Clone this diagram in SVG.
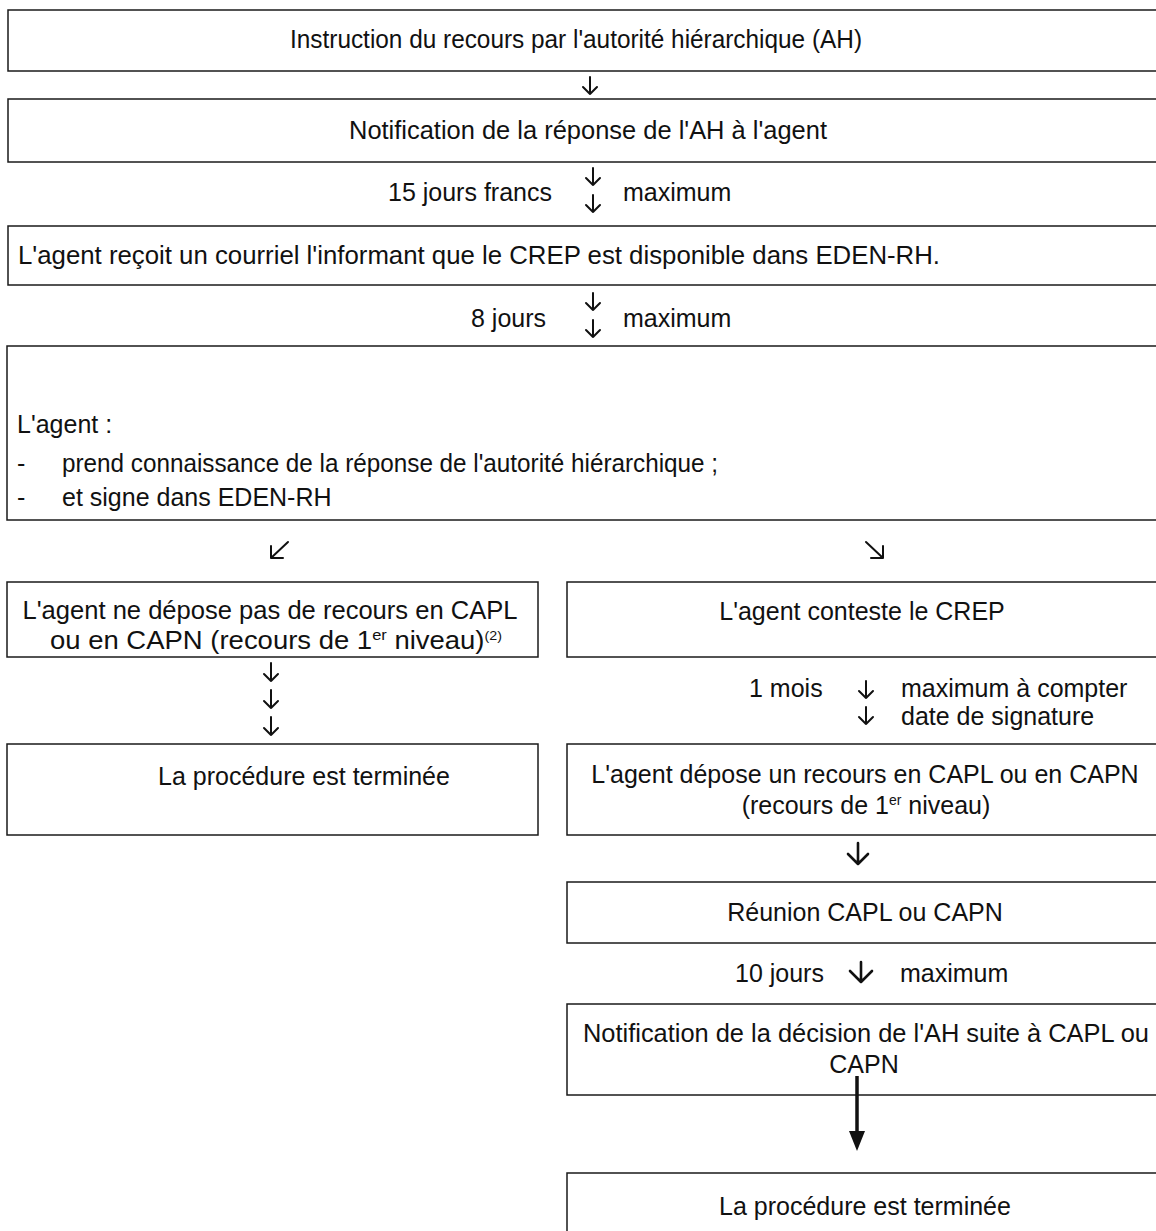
<svg xmlns="http://www.w3.org/2000/svg" width="1156" height="1231" viewBox="0 0 1156 1231">
<style>
.box{fill:#fff;stroke:#1a1a1a;stroke-width:1.5}
.t{font-family:"Liberation Sans",Arial,sans-serif;font-size:25px;fill:#111}
.c{text-anchor:middle}
.sup{font-size:14px}
.arr{fill:none;stroke:#111;stroke-width:2;stroke-linecap:round;stroke-linejoin:round}
.arrb{fill:none;stroke:#111;stroke-width:2.6;stroke-linecap:round;stroke-linejoin:round}
</style>
<rect width="1156" height="1231" fill="#fff"/>
<g id="n1"><rect class="box" x="8" y="10" width="1160" height="61"/><text class="t c" x="576" y="48" textLength="572" lengthAdjust="spacingAndGlyphs">Instruction du recours par l'autorité hiérarchique (AH)</text></g>
<g id="n2"><rect class="box" x="8" y="99" width="1160" height="63"/><text class="t c" x="588" y="139" textLength="478" lengthAdjust="spacingAndGlyphs">Notification de la réponse de l'AH à l'agent</text></g>
<g id="n3"><rect class="box" x="8" y="226" width="1160" height="59"/><text class="t" x="18" y="264" textLength="922" lengthAdjust="spacingAndGlyphs">L'agent reçoit un courriel l'informant que le CREP est disponible dans EDEN-RH.</text></g>
<g id="n4"><rect class="box" x="7" y="346" width="1160" height="174"/>
<text class="t" x="17" y="433">L'agent :</text>
<text class="t" x="17" y="472">-</text><text class="t" x="62" y="472" textLength="656" lengthAdjust="spacingAndGlyphs">prend connaissance de la réponse de l'autorité hiérarchique ;</text>
<text class="t" x="17" y="506">-</text><text class="t" x="62" y="506">et signe dans EDEN-RH</text></g>
<g id="n5"><rect class="box" x="7" y="582" width="531" height="75"/>
<text class="t c" x="270" y="619" textLength="495" lengthAdjust="spacingAndGlyphs">L'agent ne dépose pas de recours en CAPL</text>
<text class="t" x="50" y="649" font-size="26" textLength="452" lengthAdjust="spacingAndGlyphs">ou en CAPN (recours de 1<tspan font-size="15" dy="-9">er</tspan><tspan dy="9"> niveau)</tspan><tspan font-size="13" dy="-9">(2)</tspan></text></g>
<g id="n6"><rect class="box" x="567" y="582" width="600" height="75"/><text class="t c" x="862" y="620">L'agent conteste le CREP</text></g>
<g id="n7"><rect class="box" x="7" y="744" width="531" height="91"/><text class="t c" x="304" y="785">La procédure est terminée</text></g>
<g id="n8"><rect class="box" x="567" y="744" width="600" height="91"/>
<text class="t c" x="865" y="783">L'agent dépose un recours en CAPL ou en CAPN</text>
<text class="t c" x="866" y="814">(recours de 1<tspan class="sup" dy="-9">er</tspan><tspan dy="9"> niveau)</tspan></text></g>
<g id="n9"><rect class="box" x="567" y="882" width="600" height="61"/><text class="t c" x="865" y="921">Réunion CAPL ou CAPN</text></g>
<g id="n10"><rect class="box" x="567" y="1004" width="600" height="91"/>
<text class="t c" x="866" y="1042" textLength="566" lengthAdjust="spacingAndGlyphs">Notification de la décision de l'AH suite à CAPL ou</text>
<text class="t c" x="864" y="1073">CAPN</text></g>
<g id="n11"><rect class="box" x="567" y="1173" width="600" height="80"/><text class="t c" x="865" y="1215">La procédure est terminée</text></g>
<g id="labels">
<text class="t" x="388" y="201">15 jours francs</text><text class="t" x="623" y="201">maximum</text>
<text class="t" x="471" y="327">8 jours</text><text class="t" x="623" y="327">maximum</text>
<text class="t" x="749" y="697">1 mois</text><text class="t" x="901" y="697">maximum à compter</text>
<text class="t" x="901" y="725">date de signature</text>
<text class="t" x="735" y="982">10 jours</text><text class="t" x="900" y="982">maximum</text>
</g>
<g id="connectors">
<path class="arr" d="M590 77V94M583 87L590 94L597 87"/>
<path class="arr" d="M593 168V185M586 178L593 185L600 178"/>
<path class="arr" d="M593 195V212M586 205L593 212L600 205"/>
<path class="arr" d="M593 293V310M586 303L593 310L600 303"/>
<path class="arr" d="M593 320V337M586 330L593 337L600 330"/>
<path class="arr" d="M288 542L271 558M271 546V558H283"/>
<path class="arr" d="M866 542L883 558M883 546V558H871"/>
<path class="arr" d="M271 663V681M264 674L271 681L278 674"/>
<path class="arr" d="M271 690V708M264 701L271 708L278 701"/>
<path class="arr" d="M271 717V735M264 728L271 735L278 728"/>
<path class="arr" d="M866 681V698M859 691L866 698L873 691"/>
<path class="arr" d="M866 707V724M859 717L866 724L873 717"/>
<path class="arrb" d="M858 843V864M848 854L858 864L868 854"/>
<path class="arrb" d="M861 962V982M850 971L861 982L872 971"/>
<path d="M857 1076V1134" stroke="#111" stroke-width="3.5" fill="none"/>
<path d="M849 1131H865L857 1151Z" fill="#111"/>
</g>
</svg>
